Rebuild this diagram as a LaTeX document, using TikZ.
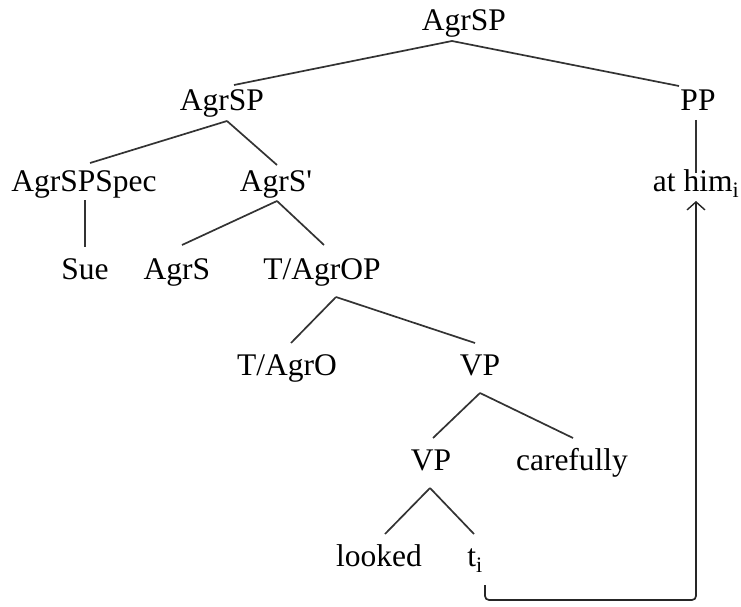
\documentclass[tikz,border=0pt]{standalone}
\usepackage{fontspec}
\setmainfont{Liberation Serif}
\usetikzlibrary{arrows.meta}
\begin{document}
\begin{tikzpicture}[x=1pt,y=-1pt,
  lbl/.style={inner sep=0pt,anchor=base,font=\fontsize{31.5}{37}\selectfont},
  edge/.style={line width=1.7pt,draw=black!80},
  mv/.style={line width=1.7pt,draw=black!85,rounded corners=4pt,-{Straight Barb[length=8pt,width=18pt,line width=1.4pt]}}]
\useasboundingbox (0,0) rectangle (741,607);
\node[lbl] (top) at (464,31) {AgrSP};
\node[lbl] (s2) at (222,111) {AgrSP};
\node[lbl] (pp) at (698,111) {PP};
\node[lbl] (spec) at (84,191) {AgrSPSpec};
\node[lbl] (sbar) at (276,191) {AgrS\textquotesingle};
\node[lbl] (ahim) at (696,191) {at him\textsubscript{i}};
\node[lbl] (sue) at (85,279) {Sue};
\node[lbl] (agrs) at (177,279) {AgrS};
\node[lbl] (tagrop) at (322,279) {T/AgrOP};
\node[lbl] (tagro) at (287,375) {T/AgrO};
\node[lbl] (vp) at (480,375) {VP};
\node[lbl] (vp2) at (431,470) {VP};
\node[lbl] (care) at (572,470) {carefully};
\node[lbl] (looked) at (379,566) {looked};
\node[lbl] (ti) at (475,566) {t\textsubscript{i}};
% edges
\draw[edge] ([shift={(-12,10)}]top.base) -- ([shift={(12,-26)}]s2.base);
\draw[edge] ([shift={(-12,10)}]top.base) -- ([shift={(-19,-25)}]pp.base);
\draw[edge] ([shift={(5,10)}]s2.base) -- ([shift={(6,-28)}]spec.base);
\draw[edge] ([shift={(5,10)}]s2.base) -- ([shift={(1,-26)}]sbar.base);
\draw[edge] ([shift={(-2,9)}]pp.base) -- ([shift={(0,-18)}]ahim.base);
\draw[edge] ([shift={(1,9)}]spec.base) -- ([shift={(0,-32)}]sue.base);
\draw[edge] ([shift={(1,10)}]sbar.base) -- ([shift={(5,-34)}]agrs.base);
\draw[edge] ([shift={(1,10)}]sbar.base) -- ([shift={(2,-34)}]tagrop.base);
\draw[edge] ([shift={(14,18)}]tagrop.base) -- ([shift={(4,-32)}]tagro.base);
\draw[edge] ([shift={(14,18)}]tagrop.base) -- ([shift={(-5,-32)}]vp.base);
\draw[edge] ([shift={(0,18)}]vp.base) -- ([shift={(2,-32)}]vp2.base);
\draw[edge] ([shift={(0,18)}]vp.base) -- ([shift={(1,-32)}]care.base);
\draw[edge] ([shift={(-1,18)}]vp2.base) -- ([shift={(6,-32)}]looked.base);
\draw[edge] ([shift={(-1,18)}]vp2.base) -- ([shift={(-1,-32)}]ti.base);
% movement arrow
\coordinate (b1) at ([shift={(10,34)}]ti.base);
\draw[mv] ([shift={(10,19)}]ti.base) -- (b1) -- (b1 -| ahim.base) -- ([shift={(0,10)}]ahim.base);
\end{tikzpicture}
\end{document}
